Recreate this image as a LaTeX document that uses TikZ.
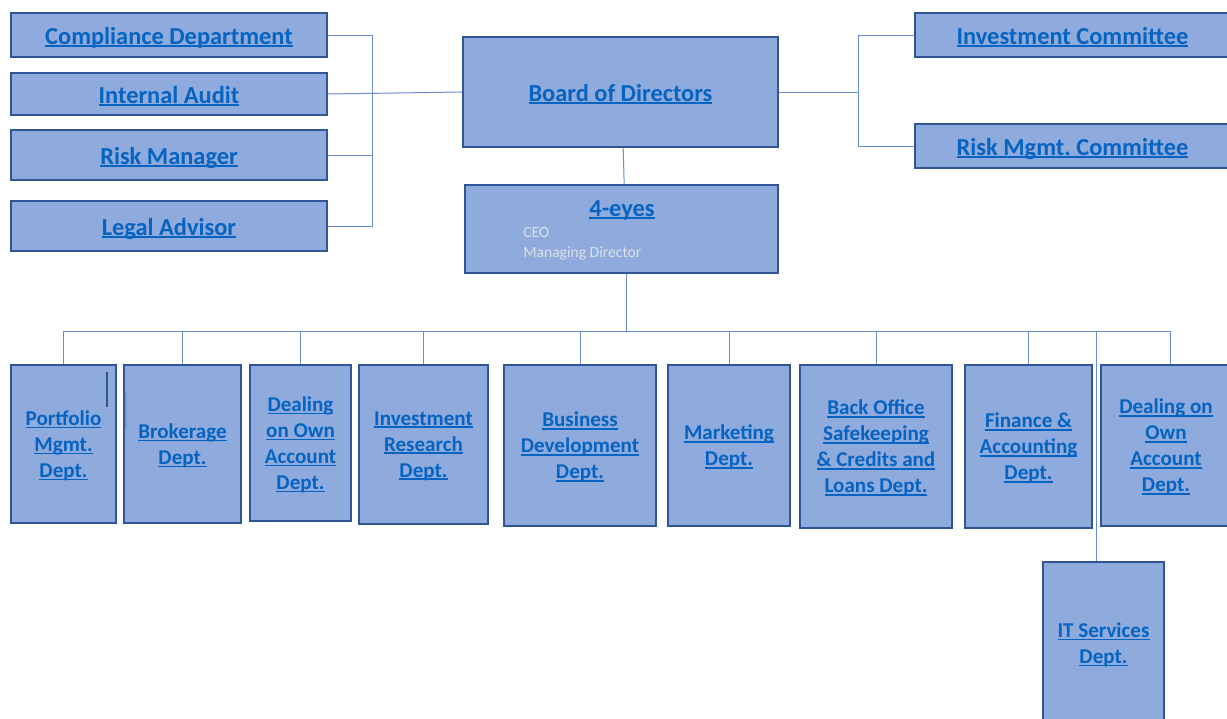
\documentclass[tikz,border=0pt]{standalone}
\usepackage{fontspec}
\setmainfont{Carlito}
\frenchspacing
\definecolor{boxfill}{HTML}{8FAADC}
\definecolor{boxline}{HTML}{2F5597}
\definecolor{linkblue}{HTML}{0563C1}
\definecolor{wireblue}{HTML}{6A8CD2}
\definecolor{subgray}{HTML}{DCE1EA}
\newcommand\deptlink[1]{\setbox0\hbox{#1}\rlap{\rule[-0.13em]{\wd0}{0.075em}}\box0}
\begin{document}
\begin{tikzpicture}[x=0.75pt,y=-0.75pt,
		box/.style={draw=boxline,line width=1.2pt,fill=boxfill,text=linkblue,inner sep=0pt,align=center,
			text height=13.5pt,text depth=0pt,font=\bfseries\fontsize{18.3}{22}\selectfont},
		unit/.style={draw=boxline,line width=1.2pt,fill=boxfill,text=linkblue,inner sep=0pt,align=center,
			text depth=-1pt,font=\bfseries\fontsize{15.8}{19.5}\selectfont},
		sz/.style 2 args={minimum width=#1*0.75pt,minimum height=#2*0.75pt},
		wire/.style={draw=wireblue,line width=0.75pt}]
		\useasboundingbox (0,0) rectangle (1227,718);
		% staff boxes on the left
		\node[box,sz={316}{44}] (compliance) at (169,35) {\deptlink{Compliance Department}};
		\node[box,sz={316}{42}] (audit) at (169,94) {\deptlink{Internal Audit}};
		\node[box,sz={316}{50}] (riskMgr) at (169,155) {\deptlink{Risk Manager}};
		\node[box,sz={316}{50}] (legal) at (169,226) {\deptlink{Legal Advisor}};
		% board and committees
		\node[box,sz={315}{110}] (board) at (620.5,92) {\deptlink{Board of Directors}};
		\node[box,sz={315}{44}] (invCom) at (1072.5,35) {\deptlink{Investment Committee}};
		\node[box,sz={315}{44}] (riskCom) at (1072.5,146) {\deptlink{Risk Mgmt. Committee}};
		% management
		\node[box,sz={313}{88}] (fourEyes) at (621.5,229) {};
		\node[anchor=base,text=linkblue,inner sep=0pt,font=\bfseries\fontsize{18.3}{22}\selectfont] (fourEyesTitle) at (622,216) {\deptlink{4-eyes}};
		\node[anchor=base west,text=subgray,inner sep=0pt,font=\fontsize{11.7}{15}\selectfont] (ceoLine) at (523,237) {CEO};
		\node[anchor=base west,text=subgray,inner sep=0pt,font=\fontsize{11.7}{15}\selectfont] (mdLine) at (523,257) {Managing Director};
		% departments
		\node[unit,sz={105}{158}] (portfolio) at (63.5,444) {\deptlink{Portfolio}\\\deptlink{Mgmt.}\\\deptlink{Dept.}};
		\node[unit,sz={117}{158}] (brokerage) at (182.5,444) {\deptlink{Brokerage}\\\deptlink{Dept.}};
		\node[unit,sz={101}{156}] (dealing) at (300.5,443) {\deptlink{Dealing}\\\deptlink{on Own}\\\deptlink{Account}\\\deptlink{Dept.}};
		\node[unit,sz={129}{159}] (research) at (423.5,444.5) {\deptlink{Investment}\\\deptlink{Research}\\\deptlink{Dept.}};
		\node[unit,sz={152}{161}] (business) at (580,445.5) {\deptlink{Business}\\\deptlink{Development}\\\deptlink{Dept.}};
		\node[unit,sz={122}{161}] (marketing) at (729,445.5) {\deptlink{Marketing}\\\deptlink{Dept.}};
		\node[unit,sz={152}{163}] (backOffice) at (876,446.5) {\deptlink{Back Office}\\\deptlink{Safekeeping}\\\deptlink{\& Credits and}\\\deptlink{Loans Dept.}};
		\node[unit,sz={127}{163}] (finance) at (1028.5,446.5) {\deptlink{Finance \&}\\\deptlink{Accounting}\\\deptlink{Dept.}};
		\node[unit,sz={130}{161}] (dealingOwn) at (1166,445.5) {\deptlink{Dealing on}\\\deptlink{Own}\\\deptlink{Account}\\\deptlink{Dept.}};
		\node[unit,sz={121}{162}] (itServices) at (1103.5,643) {\deptlink{IT Services}\\\deptlink{Dept.}};
		% connectors
		\coordinate (leftBus) at (372,0);
		\coordinate (rightBus) at (858,0);
		\coordinate (bus) at (0,331);
		\draw[wire] (compliance.east) -- (compliance.east -| leftBus) -- (legal.east -| leftBus) -- (legal.east);
		\draw[wire] (riskMgr.east) -- (riskMgr.east -| leftBus);
		\draw[wire] (audit.east) -- (board.west);
		\draw[wire] (board.east) -- (board.east -| rightBus);
		\draw[wire] (invCom.west) -- (invCom.west -| rightBus) -- (riskCom.west -| rightBus) -- (riskCom.west);
		\draw[wire] ([xshift=2pt]board.south) -- ([xshift=2pt]fourEyes.north);
		\draw[wire] ([xshift=3.4pt]fourEyes.south) -- ([xshift=3.4pt]fourEyes.south |- bus);
		\draw[wire] (portfolio.north |- bus) -- ([xshift=3.7pt]dealingOwn.north |- bus);
		\foreach \n in {portfolio,brokerage,dealing,research,business,marketing,backOffice,finance}
			\draw[wire] (\n.north) -- (\n.north |- bus);
		\draw[wire] ([xshift=3.7pt]dealingOwn.north) -- ([xshift=3.7pt]dealingOwn.north |- bus);
		\draw[wire] ([xshift=-5.6pt]itServices.north) -- ([xshift=-5.6pt]itServices.north |- bus);
		% stray marks
		\draw[boxline,line width=0.8pt] (107,372) -- (107,407);
		\draw[boxline!60,line width=0.8pt] (126,393) -- (126,429);
	\end{tikzpicture}
\end{document}
